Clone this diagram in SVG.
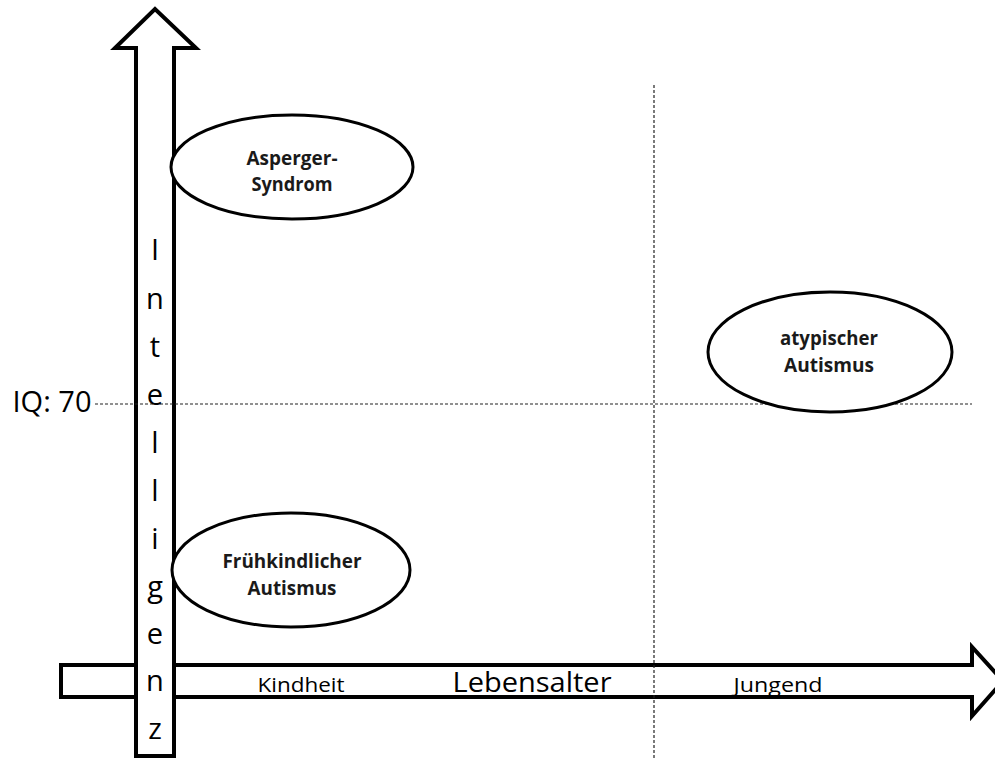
<svg xmlns="http://www.w3.org/2000/svg" width="995" height="760" viewBox="0 0 995 760">
<style>
  .axis { fill: #ffffff; stroke: #000000; stroke-width: 4; stroke-linejoin: miter; }
  .dash { stroke: #222222; stroke-width: 1.2; stroke-dasharray: 3 2; fill: none; }
  .node { fill: #ffffff; stroke: #000000; stroke-width: 3; }
  .lbl { font-family: "Open Sans", "Liberation Sans", sans-serif; font-weight: bold; font-size: 19px; fill: #1a1a1a; text-anchor: middle; }
  .ax { font-family: "Open Sans", "Liberation Sans", sans-serif; fill: #000000; text-anchor: middle; }
</style>
<rect width="995" height="760" fill="#ffffff"/>
<g id="connectors">
  <polygon id="x-axis" class="axis" points="61,665 972,665 972,647 1003,681 972,716 972,697 61,697"/>
  <polygon id="y-axis" class="axis" points="136,756 136,48 115,48 155,9 196,48 174,48 174,756"/>
  <line id="iq-line" class="dash" x1="95" y1="404" x2="972" y2="404"/>
  <line id="age-line" class="dash" x1="654" y1="85" x2="654" y2="760"/>
</g>
<g id="y-axis-label" class="ax" font-size="29">
  <text x="155" y="260">I</text>
  <text x="155" y="309">n</text>
  <text x="155" y="357">t</text>
  <text x="155" y="405">e</text>
  <text x="155" y="453">l</text>
  <text x="155" y="501">l</text>
  <text x="155" y="549">i</text>
  <text x="155" y="597">g</text>
  <text x="155" y="644">e</text>
  <text x="155" y="691">n</text>
  <text x="155" y="739">z</text>
</g>
<g id="iq-label">
  <text class="ax" x="52" y="412" font-size="29" textLength="79" lengthAdjust="spacingAndGlyphs">IQ: 70</text>
</g>
<g id="x-axis-labels">
  <text class="ax" x="301" y="692" font-size="20" textLength="87" lengthAdjust="spacingAndGlyphs">Kindheit</text>
  <text class="ax" x="532" y="692" font-size="28" textLength="159" lengthAdjust="spacingAndGlyphs">Lebensalter</text>
  <text class="ax" x="778" y="692" font-size="20" textLength="89" lengthAdjust="spacingAndGlyphs">Jungend</text>
</g>
<g id="node-asperger">
  <ellipse class="node" cx="292" cy="167" rx="121" ry="52"/>
  <text class="lbl" x="292" y="165" textLength="91" lengthAdjust="spacingAndGlyphs">Asperger-</text>
  <text class="lbl" x="292" y="191" textLength="81" lengthAdjust="spacingAndGlyphs">Syndrom</text>
</g>
<g id="node-atypisch">
  <ellipse class="node" cx="830" cy="352" rx="122" ry="60"/>
  <text class="lbl" x="829" y="345" textLength="98" lengthAdjust="spacingAndGlyphs">atypischer</text>
  <text class="lbl" x="829" y="372" textLength="90" lengthAdjust="spacingAndGlyphs">Autismus</text>
</g>
<g id="node-fruehkindlich">
  <ellipse class="node" cx="291" cy="570" rx="119" ry="57"/>
  <text class="lbl" x="292" y="568" textLength="139" lengthAdjust="spacingAndGlyphs">Frühkindlicher</text>
  <text class="lbl" x="292" y="595" textLength="89" lengthAdjust="spacingAndGlyphs">Autismus</text>
</g>
</svg>
